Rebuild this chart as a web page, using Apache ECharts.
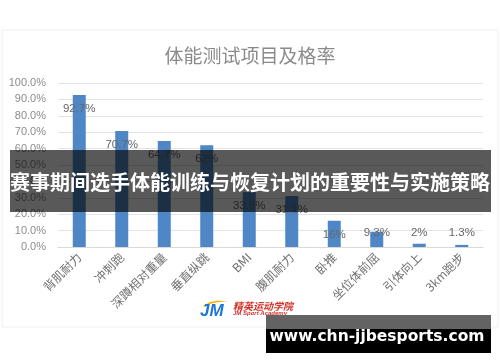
<!DOCTYPE html>
<html>
<head>
<meta charset="utf-8">
<script src="https://cdn.jsdelivr.net/npm/echarts@6/dist/echarts.min.js"></script>
<style>html,body{margin:0;padding:0;background:#fff;}#c{width:500px;height:362px;}</style>
</head>
<body>
<div id="c"></div>
<script>
const chartTitle = '体能测试项目及格率';
const categories = ['背肌耐力', '冲刺跑', '深蹲相对重量', '垂直纵跳', 'BMI', '腹肌耐力', '卧推', '坐位体前屈', '引体向上', '3km跑步'];
const passRates = [92.7, 70.7, 64.7, 62, 33.5, 31.1, 16, 9.3, 2, 1.3];
const yTicks = [0, 10, 20, 30, 40, 50, 60, 70, 80, 90, 100];
const bannerText = '赛事期间选手体能训练与恢复计划的重要性与实施策略';
const siteText = 'www.chn-jjbesports.com';
const logoMark = 'JM';
const logoName = '精英运动学院';
const logoSub = 'JM Sport Academy';

const chart = echarts.init(document.getElementById('c'), null, {renderer: 'canvas'});

const labelBase = {
  show: true,
  formatter: '{c}%',
  fontFamily: 'Liberation Sans', fontSize: 11.5, color: '#666666',
  textBorderWidth: 0, textBorderColor: 'transparent'
};
const barData = passRates.map(v => ({
  value: v,
  label: Object.assign({}, labelBase, v < 12
    ? {position: 'insideBottom', distance: 8}
    : {position: 'insideTop', distance: 8})
}));

chart.setOption({
  backgroundColor: '#ffffff',
  animation: false,
  title: {
    text: chartTitle,
    left: 'center',
    top: 41,
    textStyle: {fontFamily: 'Noto Sans CJK SC', fontSize: 19, fontWeight: 'normal', color: '#8a8a8a'}
  },
  grid: {left: 58, right: 17, top: 83, bottom: 115, containLabel: false},
  xAxis: {
    type: 'category',
    data: categories,
    axisLine: {show: true, lineStyle: {color: '#d9d9d9'}},
    axisTick: {show: false},
    axisLabel: {
      rotate: 45, interval: 0, margin: 8,
      fontFamily: 'Noto Sans CJK SC', fontSize: 12, color: '#707070'
    }
  },
  yAxis: {
    type: 'value',
    min: yTicks[0],
    max: yTicks[yTicks.length - 1],
    interval: 10,
    axisLine: {show: false},
    axisTick: {show: false},
    splitLine: {lineStyle: {color: '#e3e3e3', width: 1}},
    axisLabel: {
      margin: 12,
      formatter: v => v.toFixed(1) + '%',
      fontFamily: 'Liberation Sans', fontSize: 11, color: '#8c8c8c'
    }
  },
  series: [{
    type: 'bar',
    data: barData,
    barWidth: 13,
    itemStyle: {color: '#4f86c6'},
    label: labelBase
  }],
  graphic: [
    {type: 'rect', z: -10, silent: true, shape: {x: 2, y: 30, width: 496, height: 297},
     style: {fill: '#ffffff', stroke: '#efefef', lineWidth: 1}},
    {type: 'rect', zlevel: 5, z: 100, shape: {x: 10, y: 150, width: 481, height: 62},
     style: {fill: 'rgba(0,0,0,0.65)'}},
    {type: 'text', zlevel: 5, z: 101, x: 250, y: 182,
     style: {text: bannerText, fill: '#ffffff', font: 'bold 20px "Noto Sans CJK SC"', align: 'center', verticalAlign: 'middle'}},
    {type: 'polygon', zlevel: 5, z: 100, shape: {points: [[203, 306], [210, 302], [218, 300.5], [228, 302], [218, 302], [210, 304], [205, 307]]},
     style: {fill: '#f2b705'}},
    {type: 'text', zlevel: 5, z: 100, x: 200, y: 311,
     style: {text: logoMark, fill: '#1a78d4', font: 'italic bold 17px "Liberation Sans"', align: 'left', verticalAlign: 'middle'}},
    {type: 'text', zlevel: 5, z: 100, x: 233, y: 306,
     style: {text: logoName, fill: '#d2342b', font: 'italic bold 10px "Noto Sans CJK SC"', align: 'left', verticalAlign: 'middle'}},
    {type: 'text', zlevel: 5, z: 100, x: 233, y: 313,
     style: {text: logoSub, fill: '#d2342b', font: 'italic bold 6px "Liberation Sans"', align: 'left', verticalAlign: 'middle'}},
    {type: 'rect', zlevel: 5, z: 100, shape: {x: 266, y: 315, width: 225, height: 14},
     style: {fill: '#636363'}},
    {type: 'rect', zlevel: 5, z: 100, shape: {x: 266, y: 329, width: 225, height: 24},
     style: {fill: '#000000'}},
    {type: 'text', zlevel: 5, z: 101, x: 377, y: 337,
     style: {text: siteText, fill: '#ffffff', font: 'bold 15.5px "DejaVu Sans"', align: 'center', verticalAlign: 'middle'}}
  ]
});
</script>
</body>
</html>
